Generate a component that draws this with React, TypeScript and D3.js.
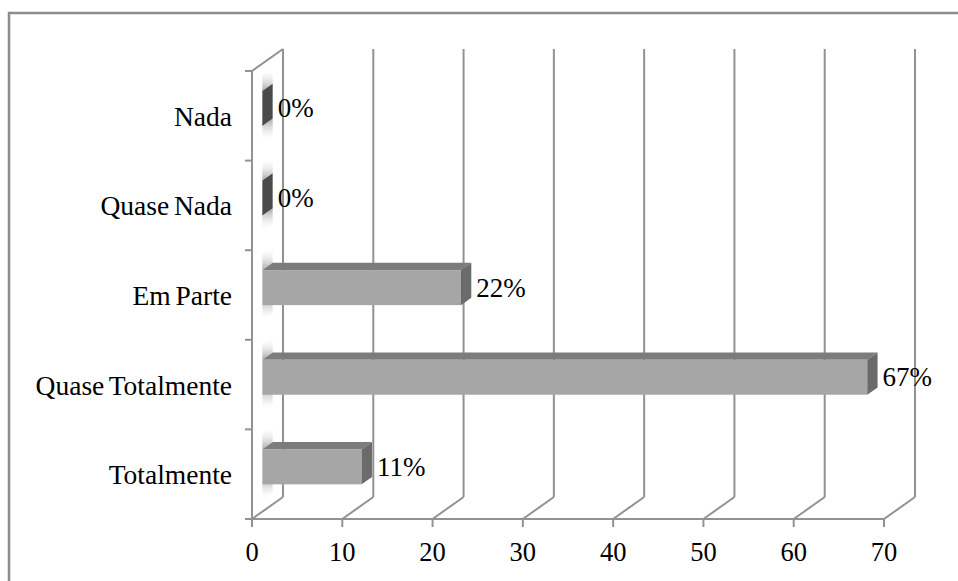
import React from "react";
import * as d3 from "d3";

const categories = ["Nada", "Quase Nada", "Em Parte", "Quase Totalmente", "Totalmente"];
const values = [0, 0, 22, 67, 11];
const valueLabels = ["0%", "0%", "22%", "67%", "11%"];
const xTicks = [0, 10, 20, 30, 40, 50, 60, 70];

const W = 958;
const H = 581;
// front plane of the 3D box
const X0 = 252;
const X1 = 884;
const YTOP = 71;
const YBOT = 519;
// depth offset of the back wall
const DX = 31;
const DY = -22;
const GRID = "#929292";
const FONT = "'Liberation Serif', 'Times New Roman', serif";

export default function App() {
  const x = d3.scaleLinear().domain([0, 70]).range([X0, X1]);
  const y = d3.scaleBand<string>().domain(categories).range([YTOP, YBOT]).padding(0);
  const step = y.step();
  const barH = step * 0.39;
  // bars sit in the middle third of the depth
  const bx = DX / 3;
  const by = DY / 3;

  const boundaries = d3.range(categories.length + 1).map((i) => YTOP + i * step);

  return (
    <svg
      width={W}
      height={H}
      viewBox={`0 0 ${W} ${H}`}
      style={{ position: "absolute", left: 0, top: 0, display: "block", background: "#fff" }}
    >
      <defs>
        <linearGradient id="shadeUp" x1="0" y1="1" x2="0" y2="0">
          <stop offset="0" stopColor="#8a8a8a" stopOpacity={0.75} />
          <stop offset="1" stopColor="#ffffff" stopOpacity={0} />
        </linearGradient>
        <linearGradient id="shadeDown" x1="0" y1="0" x2="0" y2="1">
          <stop offset="0" stopColor="#8a8a8a" stopOpacity={0.75} />
          <stop offset="1" stopColor="#ffffff" stopOpacity={0} />
        </linearGradient>
      </defs>

      {/* chart area border */}
      <rect x={9} y={13} width={1200} height={1200} fill="none" stroke="#8c8c8c" strokeWidth={2.5} />

      {/* back wall gridlines and floor diagonals */}
      {xTicks.map((t) => (
        <g key={`g${t}`}>
          <line x1={x(t) + DX} y1={YTOP + DY} x2={x(t) + DX} y2={YBOT + DY} stroke={GRID} strokeWidth={2} />
          <line x1={x(t)} y1={YBOT} x2={x(t) + DX} y2={YBOT + DY} stroke={GRID} strokeWidth={2} />
        </g>
      ))}
      {/* side wall */}
      <line x1={X0} y1={YTOP} x2={X0 + DX} y2={YTOP + DY} stroke={GRID} strokeWidth={2} />
      <line x1={X0} y1={YTOP} x2={X0} y2={YBOT} stroke={GRID} strokeWidth={2} />
      {/* floor front edge */}
      <line x1={X0} y1={YBOT} x2={X1} y2={YBOT} stroke={GRID} strokeWidth={2} />

      {/* axis ticks */}
      {boundaries.map((b, i) => (
        <line key={`lt${i}`} x1={X0 - 7} y1={b} x2={X0} y2={b} stroke={GRID} strokeWidth={2} />
      ))}
      {xTicks.map((t) => (
        <line key={`bt${t}`} x1={x(t)} y1={YBOT} x2={x(t)} y2={YBOT + 8} stroke={GRID} strokeWidth={2} />
      ))}

      {/* shading on the side wall beside each bar */}
      {categories.map((c) => {
        const cy = (y(c) as number) + step / 2 + by;
        const top = cy - barH / 2;
        const bot = cy + barH / 2;
        const xs = x(0) + bx;
        const len = 16;
        return (
          <g key={`s${c}`}>
            <polygon
              points={`${xs},${top} ${xs + bx},${top + by} ${xs + bx},${top + by - len} ${xs},${top - len}`}
              fill="url(#shadeUp)"
            />
            <polygon
              points={`${xs},${bot} ${xs + bx},${bot + by} ${xs + bx},${bot + by + len} ${xs},${bot + len}`}
              fill="url(#shadeDown)"
            />
          </g>
        );
      })}

      {/* bars */}
      {categories.map((c, i) => {
        const v = values[i];
        const cy = (y(c) as number) + step / 2 + by;
        const top = cy - barH / 2;
        const bot = cy + barH / 2;
        const xl = x(0) + bx;
        const xr = x(v) + bx;
        const zero = v === 0;
        return (
          <g key={`b${c}`}>
            {!zero && (
              <>
                <polygon
                  points={`${xl},${top} ${xr},${top} ${xr + bx},${top + by} ${xl + bx},${top + by}`}
                  fill="#7c7c7c"
                />
                <rect x={xl} y={top} width={xr - xl} height={barH} fill="#a6a6a6" />
              </>
            )}
            <polygon
              points={`${xr},${top} ${xr + bx},${top + by} ${xr + bx},${bot + by} ${xr},${bot}`}
              fill={zero ? "#4a4a4a" : "#6b6b6b"}
            />
            <text
              x={xr + bx + 5}
              y={cy + 9}
              fontFamily={FONT}
              fontSize={27}
              fill="#000"
            >
              {valueLabels[i]}
            </text>
          </g>
        );
      })}

      {/* category labels */}
      {categories.map((c) => (
        <text
          key={`c${c}`}
          x={232}
          y={(y(c) as number) + step / 2 + 10}
          textAnchor="end"
          fontFamily={FONT}
          fontSize={27.5}
          wordSpacing={-2}
          fill="#000"
        >
          {c}
        </text>
      ))}

      {/* value axis labels */}
      {xTicks.map((t) => (
        <text
          key={`xl${t}`}
          x={x(t)}
          y={561}
          textAnchor="middle"
          fontFamily={FONT}
          fontSize={26.5}
          fill="#000"
        >
          {t}
        </text>
      ))}
    </svg>
  );
}
